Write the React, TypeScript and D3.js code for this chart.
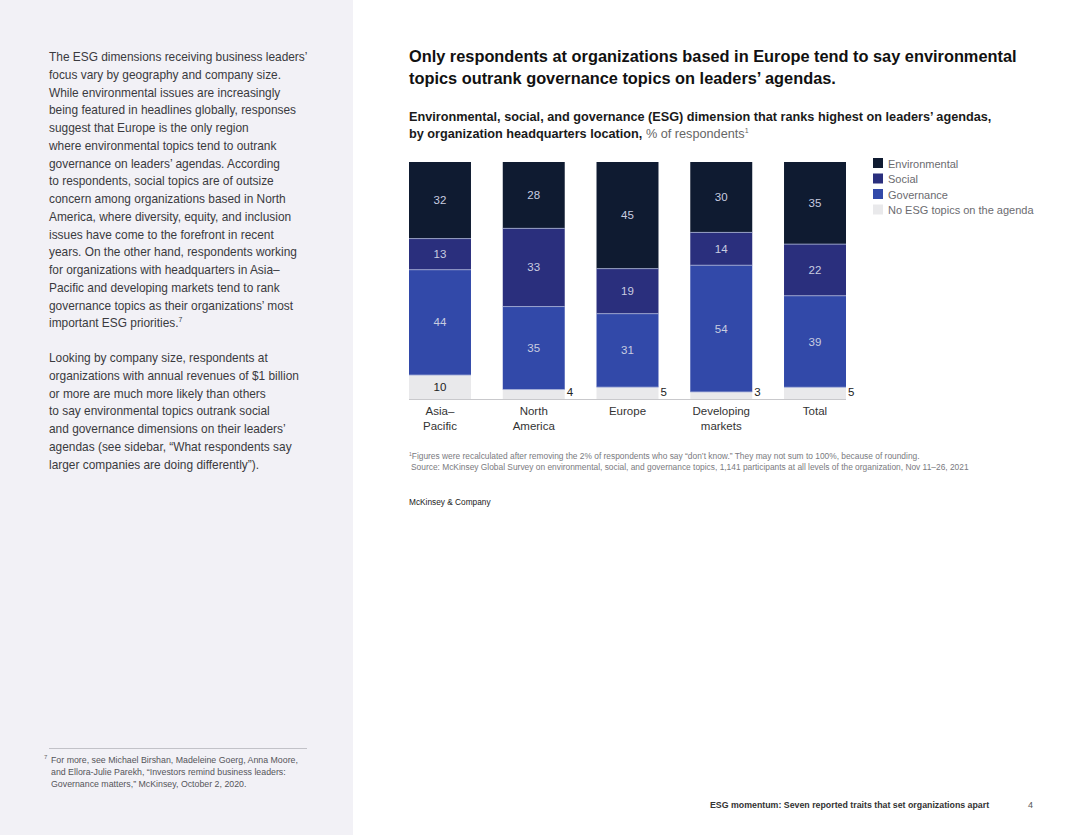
import React, { useRef, useEffect } from "react";
import * as d3 from "d3";

// chart data
const categories = ["Asia–Pacific", "North America", "Europe", "Developing markets", "Total"];
const categoryLines = [["Asia–", "Pacific"], ["North", "America"], ["Europe"], ["Developing", "markets"], ["Total"]];
const environmental = [32, 28, 45, 30, 35];
const social = [13, 33, 19, 14, 22];
const governance = [44, 35, 31, 54, 39];
const noTopics = [10, 4, 5, 3, 5];

const seriesKeys = ["none", "governance", "social", "environmental"];
const legendItems = [
  { key: "environmental", label: "Environmental" },
  { key: "social", label: "Social" },
  { key: "governance", label: "Governance" },
  { key: "none", label: "No ESG topics on the agenda" },
];

const bodyLines1 = [
  "The ESG dimensions receiving business leaders’",
  "focus vary by geography and company size.",
  "While environmental issues are increasingly",
  "being featured in headlines globally, responses",
  "suggest that Europe is the only region",
  "where environmental topics tend to outrank",
  "governance on leaders’ agendas. According",
  "to respondents, social topics are of outsize",
  "concern among organizations based in North",
  "America, where diversity, equity, and inclusion",
  "issues have come to the forefront in recent",
  "years. On the other hand, respondents working",
  "for organizations with headquarters in Asia–",
  "Pacific and developing markets tend to rank",
  "governance topics as their organizations’ most",
  "important ESG priorities.",
];
const bodyLines2 = [
  "Looking by company size, respondents at",
  "organizations with annual revenues of $1 billion",
  "or more are much more likely than others",
  "to say environmental topics outrank social",
  "and governance dimensions on their leaders’",
  "agendas (see sidebar, “What respondents say",
  "larger companies are doing differently”).",
];
const sideNoteLines = [
  "For more, see Michael Birshan, Madeleine Goerg, Anna Moore,",
  "and Ellora-Julie Parekh, “Investors remind business leaders:",
  "Governance matters,” McKinsey, October 2, 2020.",
];

const colors: Record<string, string> = {
  environmental: "#0f1b31",
  social: "#2a2f7d",
  governance: "#3249a9",
  none: "#e9e9eb",
};

const FONT = "'Liberation Sans', Arial, sans-serif";

export default function App() {
  const ref = useRef<SVGGElement>(null);

  useEffect(() => {
    if (!ref.current) return;
    const g = d3.select(ref.current);
    g.selectAll("*").remove();

    const rows = categories.map((c, i) => ({
      category: c,
      environmental: environmental[i],
      social: social[i],
      governance: governance[i],
      none: noTopics[i],
    }));

    const stack = d3.stack<any>().keys(seriesKeys).offset(d3.stackOffsetExpand);
    const layers = stack(rows);

    const x = d3.scaleBand<string>().domain(categories).range([409, 846]).paddingInner(0.339).paddingOuter(0);
    const y = d3.scaleLinear().domain([0, 1]).range([399, 162]);

    const layerG = g
      .selectAll("g.layer")
      .data(layers)
      .enter()
      .append("g")
      .attr("class", "layer")
      .attr("fill", (d: any) => colors[d.key]);

    layerG
      .selectAll("rect")
      .data((d: any) => d.map((v: any) => ({ key: d.key, v })))
      .enter()
      .append("rect")
      .attr("x", (d: any) => x(d.v.data.category)!)
      .attr("y", (d: any) => y(d.v[1]))
      .attr("width", x.bandwidth())
      .attr("height", (d: any) => y(d.v[0]) - y(d.v[1]));

    // thin light separators between segments
    layers.forEach((layer: any) => {
      if (layer.key === "none") return;
      g.selectAll(null)
        .data(layer)
        .enter()
        .append("line")
        .attr("x1", (d: any) => x(d.data.category)!)
        .attr("x2", (d: any) => x(d.data.category)! + x.bandwidth())
        .attr("y1", (d: any) => y(d[0]))
        .attr("y2", (d: any) => y(d[0]))
        .attr("stroke", "#a9b3d9")
        .attr("stroke-width", 0.8);
    });

    // value labels
    layers.forEach((layer: any) => {
      g.selectAll(null)
        .data(layer)
        .enter()
        .append("text")
        .attr("font-family", FONT)
        .attr("font-size", 11.5)
        .attr("fill", () => (layer.key === "none" ? "#222" : "#c9cde0"))
        .attr("text-anchor", (d: any) => {
          const val = d.data[layer.key];
          return layer.key === "none" && val < 8 ? "start" : "middle";
        })
        .attr("x", (d: any) => {
          const val = d.data[layer.key];
          if (layer.key === "none" && val < 8) return x(d.data.category)! + x.bandwidth() + 2;
          return x(d.data.category)! + x.bandwidth() / 2;
        })
        .attr("y", (d: any) => {
          const val = d.data[layer.key];
          if (layer.key === "none" && val < 8) return y(0) - 3;
          return (y(d[0]) + y(d[1])) / 2 + 4;
        })
        .text((d: any) => d.data[layer.key]);
    });

    // baseline
    g.append("line")
      .attr("x1", x.range()[0])
      .attr("x2", x.range()[1])
      .attr("y1", y(0) + 0.5)
      .attr("y2", y(0) + 0.5)
      .attr("stroke", "#c9c9cc")
      .attr("stroke-width", 1);

    // category labels
    categories.forEach((c, i) => {
      const t = g
        .append("text")
        .attr("font-family", FONT)
        .attr("font-size", 11.5)
        .attr("fill", "#333")
        .attr("text-anchor", "middle")
        .attr("x", x(c)! + x.bandwidth() / 2)
        .attr("y", 415);
      categoryLines[i].forEach((ln, j) => {
        t.append("tspan")
          .attr("x", x(c)! + x.bandwidth() / 2)
          .attr("dy", j === 0 ? 0 : 14.5)
          .text(ln);
      });
    });

    // legend
    const legend = g.append("g").attr("transform", "translate(873,158)");
    legendItems.forEach((item, i) => {
      legend
        .append("rect")
        .attr("x", 0)
        .attr("y", i * 15.5)
        .attr("width", 10)
        .attr("height", 10)
        .attr("fill", colors[item.key]);
      legend
        .append("text")
        .attr("x", 15)
        .attr("y", i * 15.5 + 9.5)
        .attr("font-family", FONT)
        .attr("font-size", 11)
        .attr("fill", "#6b6b70")
        .text(item.label);
    });
  }, []);

  return (
    <svg
      width={1080}
      height={835}
      style={{ position: "absolute", left: 0, top: 0, background: "#fff" }}
      fontFamily={FONT}
    >
      <rect x={0} y={0} width={353} height={835} fill="#f2f1f6" />

      <text x={49} y={61} fontSize={11.9} fill="#3a3a3e">
        {bodyLines1.map((ln, i) => (
          <tspan key={i} x={49} dy={i === 0 ? 0 : 17.75}>
            {ln}
            {i === bodyLines1.length - 1 ? (
              <tspan fontSize={7} dy={-5}>
                7
              </tspan>
            ) : null}
          </tspan>
        ))}
      </text>
      <text x={49} y={362} fontSize={11.9} fill="#3a3a3e">
        {bodyLines2.map((ln, i) => (
          <tspan key={i} x={49} dy={i === 0 ? 0 : 17.75}>
            {ln}
          </tspan>
        ))}
      </text>

      <line x1={49} x2={307} y1={748.5} y2={748.5} stroke="#c2c2c8" strokeWidth={1} />
      <text x={44} y={759} fontSize={6} fill="#666">
        7
      </text>
      <text x={51} y={763} fontSize={8.8} fill="#55555a">
        {sideNoteLines.map((ln, i) => (
          <tspan key={i} x={51} dy={i === 0 ? 0 : 12}>
            {ln}
          </tspan>
        ))}
      </text>

      <text x={409} y={62} fontSize={16.35} fontWeight={700} fill="#111">
        <tspan x={409}>Only respondents at organizations based in Europe tend to say environmental</tspan>
        <tspan x={409} dy={21.5}>
          topics outrank governance topics on leaders’ agendas.
        </tspan>
      </text>

      <text x={409} y={121} fontSize={12.7} fontWeight={700} fill="#1a1a1a">
        <tspan x={409}>Environmental, social, and governance (ESG) dimension that ranks highest on leaders’ agendas,</tspan>
        <tspan x={409} dy={16.5}>
          by organization headquarters location,{" "}
          <tspan fontWeight={400} fill="#666">
            % of respondents
          </tspan>
          <tspan fontWeight={400} fill="#666" fontSize={7} dy={-5}>
            1
          </tspan>
        </tspan>
      </text>

      <g ref={ref} />

      <text x={409} y={459} fontSize={8.4} fill="#7a7a80">
        <tspan fontSize={5} dy={-3}>
          1
        </tspan>
        <tspan dy={3}>
          Figures were recalculated after removing the 2% of respondents who say “don’t know.” They may not sum to 100%, because of rounding.
        </tspan>
        <tspan x={411} dy={10.5}>
          Source: McKinsey Global Survey on environmental, social, and governance topics, 1,141 participants at all levels of the organization, Nov 11–26, 2021
        </tspan>
      </text>

      <text x={409} y={505} fontSize={8.3} fill="#222">
        McKinsey &amp; Company
      </text>

      <text x={710} y={808} fontSize={8.8} fontWeight={700} fill="#333">
        ESG momentum: Seven reported traits that set organizations apart
      </text>
      <text x={1028} y={808} fontSize={9} fill="#555">
        4
      </text>
    </svg>
  );
}
